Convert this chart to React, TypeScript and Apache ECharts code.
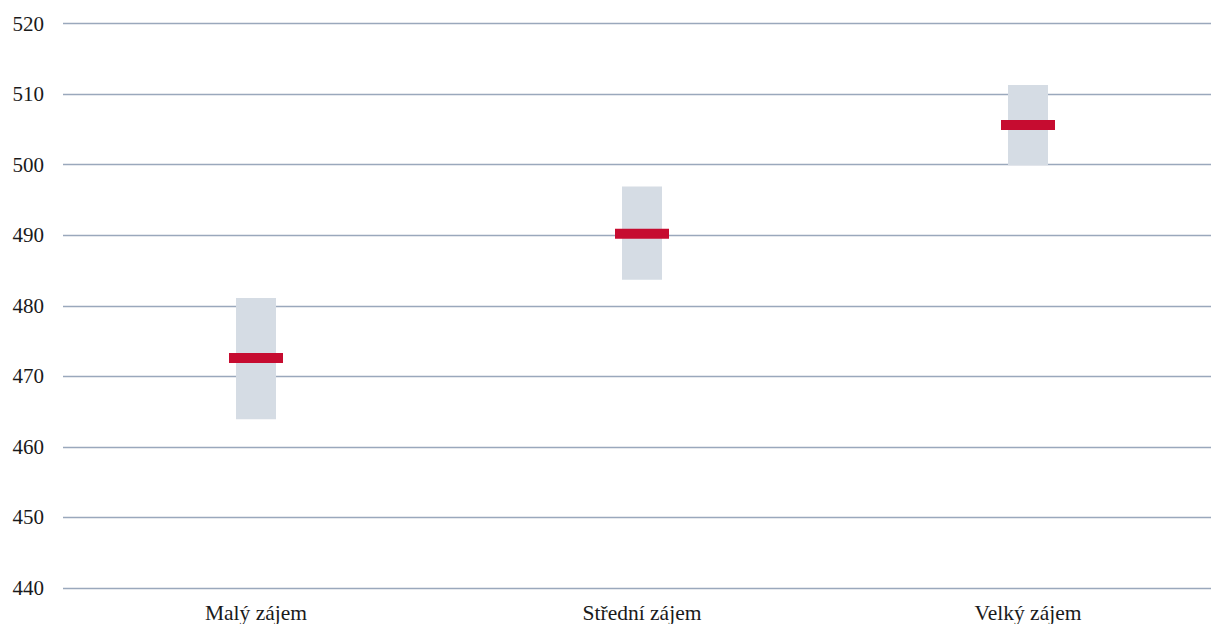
import React, { useEffect, useRef } from "react";
import * as echarts from "echarts";

const categories = ["Malý zájem", "Střední zájem", "Velký zájem"];
const lowValues = [463.9, 483.7, 499.9];
const highValues = [481.1, 496.9, 511.3];
const meanValues = [472.6, 490.2, 505.6];
const yTicks = { min: 440, max: 520, interval: 10 };

const FONT = "'Liberation Serif', 'Times New Roman', serif";

export default function App() {
  const ref = useRef<HTMLDivElement>(null);
  useEffect(() => {
    if (!ref.current) return;
    const chart = echarts.init(ref.current, null, { renderer: "svg" });
    const data = categories.map((_, i) => [i, lowValues[i], highValues[i], meanValues[i]]);
    chart.setOption({
      animation: false,
      grid: { left: 63, right: 0, top: 23.5, bottom: 32 },
      xAxis: {
        type: "category",
        data: categories,
        axisLine: { show: false },
        axisTick: { show: false },
        axisLabel: {
          color: "#1a1a1a",
          fontFamily: FONT,
          fontSize: 21.5,
          margin: 14,
        },
      },
      yAxis: {
        type: "value",
        min: yTicks.min,
        max: yTicks.max,
        interval: yTicks.interval,
        axisLine: { show: false },
        axisTick: { show: false },
        axisLabel: {
          color: "#1a1a1a",
          fontFamily: FONT,
          fontSize: 21,
          margin: 19,
        },
        splitLine: { show: true, lineStyle: { color: "#9aa8bc", width: 1.3 } },
      },
      series: [
        {
          type: "custom",
          data,
          encode: { x: 0, y: [1, 2, 3] },
          renderItem: (params: any, api: any) => {
            const x = api.value(0);
            const lo = api.coord([x, api.value(1)]);
            const hi = api.coord([x, api.value(2)]);
            const mid = api.coord([x, api.value(3)]);
            const bw = 40;
            const mw = 54;
            const mh = 10;
            return {
              type: "group",
              children: [
                {
                  type: "rect",
                  shape: { x: lo[0] - bw / 2, y: hi[1], width: bw, height: lo[1] - hi[1] },
                  style: { fill: "#d5dce4" },
                },
                {
                  type: "rect",
                  shape: { x: mid[0] - mw / 2, y: mid[1] - mh / 2, width: mw, height: mh },
                  style: { fill: "#c60c30" },
                },
              ],
            };
          },
        },
      ],
    });
    return () => chart.dispose();
  }, []);
  return (
    <div
      style={{
        position: "absolute",
        left: 0,
        top: 0,
        width: 1211,
        height: 624,
        overflow: "hidden",
      }}
    >
      <div ref={ref} style={{ width: 1221, height: 624 }} />
    </div>
  );
}
